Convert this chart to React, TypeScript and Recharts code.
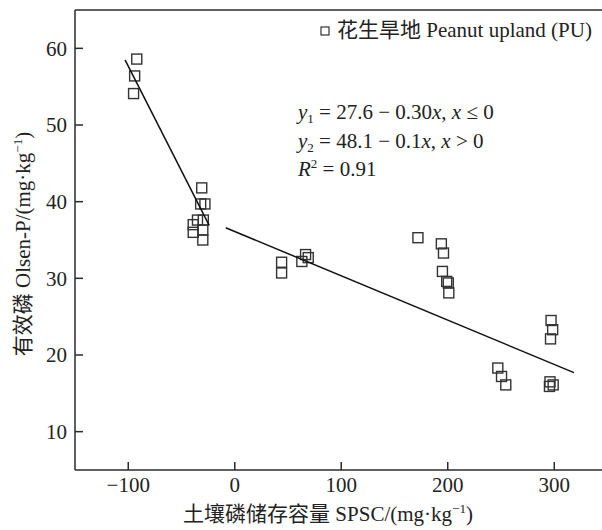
import React from "react";
import { ScatterChart, Scatter, XAxis, YAxis, ReferenceLine } from "recharts";

// SPSC (x) vs Olsen-P (y)
const spsc = [
  -92, -94, -95, -31, -32, -28, -35, -29.5, -39, -39, -30, -30, 44, 44, 63, 66.5, 69, 172, 194, 196, 195, 199, 200.5,
  201, 297, 298.5, 296.5, 247, 250.5, 254.5, 296, 299, 295.5,
];
const olsenP = [
  58.6, 56.4, 54.1, 41.8, 39.7, 39.7, 37.6, 37.6, 37.0, 36.0, 36.3, 35.0, 32.1, 30.7, 32.2, 33.1, 32.7, 35.3, 34.5, 33.3,
  30.9, 29.6, 29.4, 28.1, 24.5, 23.3, 22.1, 18.3, 17.2, 16.1, 16.5, 16.1, 15.9,
];

// fitted segments, endpoints as drawn
const fit1X = [-103, -24];
const fit1Y = [58.5, 36.9];
const fit2X = [-8.5, 318.5];
const fit2Y = [36.6, 17.7];

const xTicks = [-100, 0, 100, 200, 300];
const yTicks = [10, 20, 30, 40, 50, 60];

const points = spsc.map((x, i) => ({ x, y: olsenP[i] }));
const line1 = fit1X.map((x, i) => ({ x, y: fit1Y[i] }));
const line2 = fit2X.map((x, i) => ({ x, y: fit2Y[i] }));

const FONT = "'Liberation Serif', 'Times New Roman', 'Noto Sans CJK SC', serif";
const INK = "#2b2b2b";
const FS = 21;

const fmt = (v: number) => (v < 0 ? "\u2212" + Math.abs(v) : String(v));

function XTick({ x, y, payload }: any) {
  return (
    <g>
      <line x1={x} x2={x} y1={y} y2={y - 8} stroke={INK} strokeWidth={1.5} />
      <text x={x} y={y + 22} textAnchor="middle" fontSize={FS} style={{ fontFamily: FONT }} fill="#222">
        {fmt(payload.value)}
      </text>
    </g>
  );
}

function YTick({ x, y, payload }: any) {
  return (
    <g>
      <line x1={x} x2={x + 8} y1={y} y2={y} stroke={INK} strokeWidth={1.5} />
      <text x={x - 8} y={y} dy="0.35em" textAnchor="end" fontSize={FS} style={{ fontFamily: FONT }} fill="#222">
        {payload.value}
      </text>
    </g>
  );
}

function Square({ cx, cy }: any) {
  if (cx == null || cy == null) return null;
  return <rect x={cx - 5} y={cy - 5} width={10} height={10} fill="none" stroke="#333" strokeWidth={1.4} />;
}

const NoDot = () => null;

export default function App() {
  return (
    <div style={{ position: "fixed", left: 0, top: 0, width: 602, height: 530, overflow: "hidden", background: "#fff" }}>
      <ScatterChart width={620} height={530} margin={{ top: 10, right: 12.5, left: 0, bottom: 0 }}>
        <XAxis
          type="number"
          dataKey="x"
          domain={[-150, 350]}
          ticks={xTicks}
          allowDataOverflow
          height={60}
          tickSize={0}
          tickMargin={0}
          tickLine={false}
          tick={<XTick />}
          axisLine={{ stroke: INK, strokeWidth: 1.5 }}
        />
        <YAxis
          type="number"
          dataKey="y"
          domain={[5, 65]}
          ticks={yTicks}
          allowDataOverflow
          width={75}
          tickSize={0}
          tickMargin={0}
          tickLine={false}
          tick={<YTick />}
          axisLine={{ stroke: INK, strokeWidth: 1.5 }}
        />
        <ReferenceLine y={65} stroke={INK} strokeWidth={1.5} />
        <Scatter data={points} shape={<Square />} isAnimationActive={false} />
        <Scatter data={line1} line={{ stroke: "#111", strokeWidth: 1.5 }} shape={<NoDot />} isAnimationActive={false} />
        <Scatter data={line2} line={{ stroke: "#111", strokeWidth: 1.5 }} shape={<NoDot />} isAnimationActive={false} />

        {/* legend */}
        <g style={{ fontFamily: FONT }} fill="#222">
          <rect x={321} y={27} width={8} height={8} fill="none" stroke="#333" strokeWidth={1.2} />
          <text x={337} y={37} fontSize={FS}>
            花生旱地 Peanut upland (PU)
          </text>
        </g>

        {/* regression equations */}
        <g style={{ fontFamily: FONT }} fill="#222" fontSize={FS}>
          <text x={298} y={119}>
            <tspan fontStyle="italic">y</tspan>
            <tspan fontSize={13} dy={4}>1</tspan>
            <tspan dy={-4}> = 27.6 − 0.30</tspan>
            <tspan fontStyle="italic">x</tspan>
            <tspan>, </tspan>
            <tspan fontStyle="italic">x</tspan>
            <tspan> ≤ 0</tspan>
          </text>
          <text x={298} y={148}>
            <tspan fontStyle="italic">y</tspan>
            <tspan fontSize={13} dy={4}>2</tspan>
            <tspan dy={-4}> = 48.1 − 0.1</tspan>
            <tspan fontStyle="italic">x</tspan>
            <tspan>, </tspan>
            <tspan fontStyle="italic">x</tspan>
            <tspan> {">"} 0</tspan>
          </text>
          <text x={298} y={176}>
            <tspan fontStyle="italic">R</tspan>
            <tspan fontSize={13} dy={-8}>2</tspan>
            <tspan dy={8}> = 0.91</tspan>
          </text>
        </g>

        {/* axis titles */}
        <g style={{ fontFamily: FONT }} fill="#222" fontSize={FS}>
          <text x={328} y={521} textAnchor="middle">
            <tspan>土壤磷储存容量 SPSC/(mg·kg</tspan>
            <tspan fontSize={13} dy={-8}>−1</tspan>
            <tspan dy={8}>)</tspan>
          </text>
          <text x={30} y={244} textAnchor="middle" transform="rotate(-90 30 244)">
            <tspan>有效磷 Olsen-P/(mg·kg</tspan>
            <tspan fontSize={13} dy={-8}>−1</tspan>
            <tspan dy={8}>)</tspan>
          </text>
        </g>
      </ScatterChart>
    </div>
  );
}
